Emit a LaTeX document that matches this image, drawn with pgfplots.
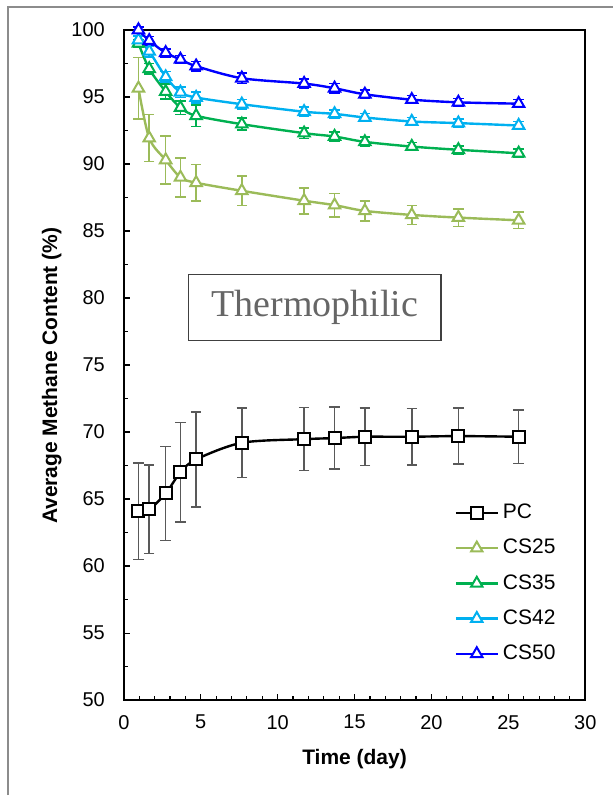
\documentclass[border=0pt]{standalone}
\usepackage{fontspec}
\setmainfont{Liberation Sans}
\newfontfamily\thermofont{Liberation Serif}
\usepackage{pgfplots}
\pgfplotsset{compat=1.18}
\usepackage{pgfplotstable}
\definecolor{cstwentyfive}{RGB}{155,187,89}
\definecolor{csthirtyfive}{RGB}{0,176,80}
\definecolor{csfortytwo}{RGB}{0,176,240}
\definecolor{csfifty}{RGB}{0,0,255}

\pgfplotstableread{
x y e
0.95 64.10 3.60
1.65 64.23 3.30
2.72 65.42 3.50
3.68 67.00 3.70
4.70 67.96 3.55
7.67 69.20 2.60
11.72 69.47 2.35
13.70 69.55 2.30
15.67 69.65 2.15
18.72 69.65 2.10
21.75 69.70 2.10
25.67 69.65 2.00
}\pc
\pgfplotstableread{
x y e
0.95 95.65 2.30
1.65 91.93 1.75
2.72 90.30 1.80
3.68 89.00 1.45
4.70 88.60 1.35
7.67 88.00 1.10
11.72 87.26 0.97
13.70 86.93 0.87
15.67 86.50 0.75
18.72 86.20 0.70
21.75 86.00 0.65
25.67 85.80 0.60
}\cstf
\pgfplotstableread{
x y e
0.95 99.00 0.30
1.65 97.10 0.40
2.72 95.40 0.55
3.68 94.20 0.50
4.70 93.60 0.80
7.67 92.97 0.45
11.72 92.30 0.40
13.70 92.05 0.35
15.67 91.65 0.35
18.72 91.30 0.30
21.75 91.06 0.30
25.67 90.80 0.30
}\csth
\pgfplotstableread{
x y e
0.95 99.25 0.30
1.65 98.40 0.40
2.72 96.50 0.40
3.68 95.35 0.40
4.70 94.96 0.40
7.67 94.46 0.35
11.72 93.90 0.35
13.70 93.74 0.30
15.67 93.47 0.30
18.72 93.17 0.30
21.75 93.05 0.30
25.67 92.87 0.30
}\csft
\pgfplotstableread{
x y e
0.95 100.00 0.20
1.65 99.20 0.30
2.72 98.30 0.30
3.68 97.80 0.30
4.70 97.30 0.35
7.67 96.40 0.40
11.72 96.00 0.35
13.70 95.65 0.35
15.67 95.20 0.30
18.72 94.80 0.30
21.75 94.60 0.30
25.67 94.50 0.30
}\csfi

\begin{document}
\begin{tikzpicture}
\begin{axis}[
  at={(0,0)}, anchor=south west,
  scale only axis, width=231pt, height=335.5pt,
  xmin=0, xmax=30, ymin=50, ymax=100,
  xtick={0,5,...,30}, ytick={50,55,...,100},
  minor x tick num=4, minor y tick num=1,
  tick align=inside, tick pos=left,
  major tick length=3pt, minor tick length=2pt,
  axis line style={line width=1pt},
  every tick/.style={black, line width=0.6pt},
  /pgf/number format/assume math mode=true,
  every tick label/.append style={font=\fontsize{10}{12}\selectfont},
  xticklabel style={yshift=-4pt},
  yticklabel style={xshift=-6pt},
  xlabel={Time (day)},
  ylabel={Average Methane Content (\%)},
  label style={font=\bfseries\fontsize{10.5}{12}\selectfont},
  xlabel style={at={(axis description cs:0.5,-0.088)}, anchor=center},
  ylabel style={at={(axis description cs:-0.156,0.484)}, anchor=center},
  clip=false,
  legend style={draw=none, fill=none, at={(axis cs:21.35,65.1)}, anchor=north west,
    font=\fontsize{10.5}{12}\selectfont, row sep=4.8pt, inner sep=1pt},
  legend cell align=left,
  legend image code/.code={\draw[#1, mark repeat=2, mark phase=2] plot coordinates {(0pt,0pt) (10.5pt,0pt) (21pt,0pt)};},
  every axis plot/.append style={line width=1.2pt, smooth, tension=0.5},
]
\addplot[black, mark=square*, mark options={fill=white, draw=black, line width=1pt, mark size=3pt},
  error bars/.cd, y dir=both, y explicit,
  error bar style={black!65, line width=0.8pt},
  error mark options={rotate=90, mark size=2.6pt, black!65, line width=0.8pt}]
  table[x=x, y=y, y error=e]{\pc};
\addlegendentry{PC}
\addplot[cstwentyfive, mark=triangle*, mark options={fill=white, draw=cstwentyfive, line width=1pt, mark size=3.3pt},
  error bars/.cd, y dir=both, y explicit,
  error bar style={cstwentyfive, line width=0.8pt},
  error mark options={rotate=90, mark size=2.6pt, cstwentyfive, line width=0.8pt}]
  table[x=x, y=y, y error=e]{\cstf};
\addlegendentry{CS25}
\addplot[csthirtyfive, mark=triangle*, mark options={fill=white, draw=csthirtyfive, line width=1pt, mark size=3.3pt},
  error bars/.cd, y dir=both, y explicit,
  error bar style={csthirtyfive, line width=0.8pt},
  error mark options={rotate=90, mark size=2.6pt, csthirtyfive, line width=0.8pt}]
  table[x=x, y=y, y error=e]{\csth};
\addlegendentry{CS35}
\addplot[csfortytwo, mark=triangle*, mark options={fill=white, draw=csfortytwo, line width=1pt, mark size=3.3pt},
  error bars/.cd, y dir=both, y explicit,
  error bar style={csfortytwo, line width=0.8pt},
  error mark options={rotate=90, mark size=2.6pt, csfortytwo, line width=0.8pt}]
  table[x=x, y=y, y error=e]{\csft};
\addlegendentry{CS42}
\addplot[csfifty, mark=triangle*, mark options={fill=white, draw=csfifty, line width=1pt, mark size=3.3pt},
  error bars/.cd, y dir=both, y explicit,
  error bar style={csfifty, line width=0.8pt},
  error mark options={rotate=90, mark size=2.6pt, csfifty, line width=0.8pt}]
  table[x=x, y=y, y error=e]{\csfi};
\addlegendentry{CS50}
\node[draw=black!75, line width=0.75pt, minimum width=126.5pt, minimum height=33pt,
  text=black!60, font=\thermofont\fontsize{19}{22}\selectfont] at (axis cs:12.41,79.3) {Thermophilic};
\end{axis}
\draw[black!45, line width=1pt] (-58pt,-47.5pt) |- (245pt,347pt);
\path[use as bounding box] (-62pt,-47.5pt) rectangle (245pt,350.5pt);
\end{tikzpicture}
\end{document}
